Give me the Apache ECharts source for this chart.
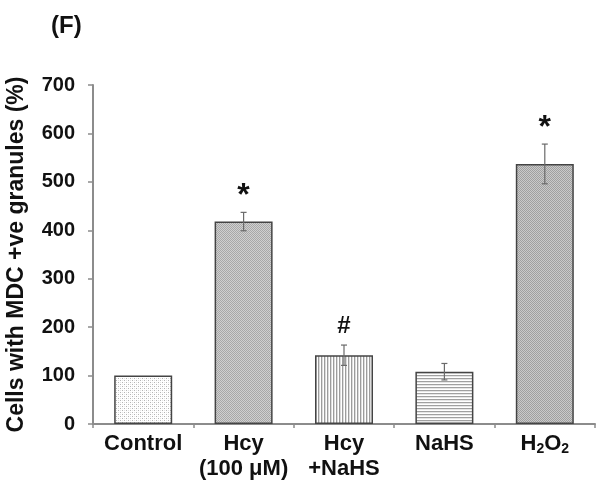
<!DOCTYPE html>
<html><head><meta charset="utf-8">
<script src="https://cdn.jsdelivr.net/npm/echarts@6/dist/echarts.min.js"></script>
<style>html,body{margin:0;padding:0;background:#fff}#c{width:602px;height:489px}</style>
</head><body><div id="c"></div>
<script>
const categories = ['Control', 'Hcy\n(100 μM)', 'Hcy\n+NaHS', 'NaHS', 'H2O2'];
const values = [100, 418, 142, 108, 537];
const errors = [0, 19, 21, 17, 41];
const marks = ['', '*', '#', '', '*'];
const yTicks = { min: 0, max: 700, interval: 100 };

function pat(w, h, draw) {
  const c = document.createElement('canvas');
  c.width = w; c.height = h;
  const g = c.getContext('2d');
  g.fillStyle = '#fff'; g.fillRect(0, 0, w, h);
  draw(g);
  return { image: c, repeat: 'repeat' };
}
const patterns = [
  pat(4, 4, g => { g.fillStyle = '#b4b4b4'; g.fillRect(0, 0, 1, 1); g.fillRect(2, 2, 1, 1); g.fillStyle='#e4e4e4'; g.fillRect(2,0,1,1); g.fillRect(0,2,1,1); }),
  pat(2, 2, g => { g.fillStyle = '#a8a8a8'; g.fillRect(0, 0, 1, 1); g.fillRect(1, 1, 1, 1); g.fillStyle = '#d0d0d0'; g.fillRect(1, 0, 1, 1); g.fillRect(0, 1, 1, 1); }),
  pat(3, 1, g => { g.fillStyle = '#9c9c9c'; g.fillRect(0, 0, 1, 1); g.fillStyle = '#dcdcdc'; g.fillRect(1, 0, 1, 1); }),
  pat(1, 3, g => { g.fillStyle = '#a0a0a0'; g.fillRect(0, 0, 1, 1); g.fillStyle = '#e6e6e6'; g.fillRect(0, 1, 1, 1); }),
  pat(2, 2, g => { g.fillStyle = '#a0a0a0'; g.fillRect(0, 0, 1, 1); g.fillRect(1, 1, 1, 1); g.fillStyle = '#cacaca'; g.fillRect(1, 0, 1, 1); g.fillRect(0, 1, 1, 1); })
];

const chart = echarts.init(document.getElementById('c'));
const FONT = 'Liberation Sans, Arial, sans-serif';
chart.setOption({
  animation: false,
  backgroundColor: '#fff',
  title: { text: '(F)', left: 46, top: 9, textStyle: { fontFamily: FONT, fontWeight: 'bold', fontSize: 24, color: '#111' } },
  grid: { left: 93, right: 7, top: 85, bottom: 65, outerBoundsMode: 'none', containLabel: false },
  xAxis: {
    type: 'category', data: categories,
    axisLine: { lineStyle: { color: '#8c8c8c', width: 2 } },
    axisTick: { show: true, length: 4, lineStyle: { color: '#8c8c8c', width: 1.5 } },
    axisLabel: {
      margin: 7, interval: 0, color: '#111', fontFamily: FONT, fontWeight: 'bold', fontSize: 22, lineHeight: 25,
      formatter: v => v === 'H2O2' ? 'H{sub|2}O{sub|2}' : v,
      rich: { sub: { fontFamily: FONT, fontWeight: 'bold', fontSize: 14, color: '#111', padding: [12, 0, 0, 0] } }
    }
  },
  yAxis: {
    type: 'value', min: yTicks.min, max: yTicks.max, interval: yTicks.interval,
    name: 'Cells with MDC +ve granules (%)', nameLocation: 'middle', nameGap: 65,
    nameTextStyle: { fontFamily: FONT, fontWeight: 'bold', fontSize: 23, color: '#111' },
    splitLine: { show: false },
    axisLine: { show: true, lineStyle: { color: '#8c8c8c', width: 2 } },
    axisTick: { show: true, length: 5, lineStyle: { color: '#8c8c8c', width: 1.5 } },
    axisLabel: { margin: 18, color: '#111', fontFamily: FONT, fontWeight: 'bold', fontSize: 20 }
  },
  series: [
    {
      type: 'bar', barWidth: 58,
      data: values.map((v, i) => ({ value: v, itemStyle: { color: patterns[i] } })),
      itemStyle: { borderColor: '#444', borderWidth: 1.5 },
      z: 2
    },
    {
      type: 'custom', z: 5,
      data: values.map((v, i) => [i, v, errors[i]]),
      renderItem: (params, api) => {
        const i = api.value(0), v = api.value(1), e = api.value(2);
        const children = [];
        if (e > 0) {
          const top = api.coord([i, v + e]), bot = api.coord([i, v - e]);
          const st = { stroke: '#6a6a6a', lineWidth: 1.2 };
          children.push({ type: 'line', shape: { x1: top[0], y1: top[1], x2: bot[0], y2: bot[1] }, style: st });
          children.push({ type: 'line', shape: { x1: top[0] - 3, y1: top[1], x2: top[0] + 3, y2: top[1] }, style: st });
          children.push({ type: 'line', shape: { x1: bot[0] - 3, y1: bot[1], x2: bot[0] + 3, y2: bot[1] }, style: st });
        }
        const m = marks[i];
        if (m) {
          const p = api.coord([i, v + e]);
          children.push({ type: 'text', style: {
            text: m, x: p[0], y: p[1] - (m === '*' ? 0 : 7), align: 'center', verticalAlign: 'bottom',
            fontFamily: FONT, fontWeight: 'bold', fontSize: m === '*' ? 32 : 24, fill: '#111'
          } });
        }
        return { type: 'group', children };
      }
    }
  ]
});
</script></body></html>
